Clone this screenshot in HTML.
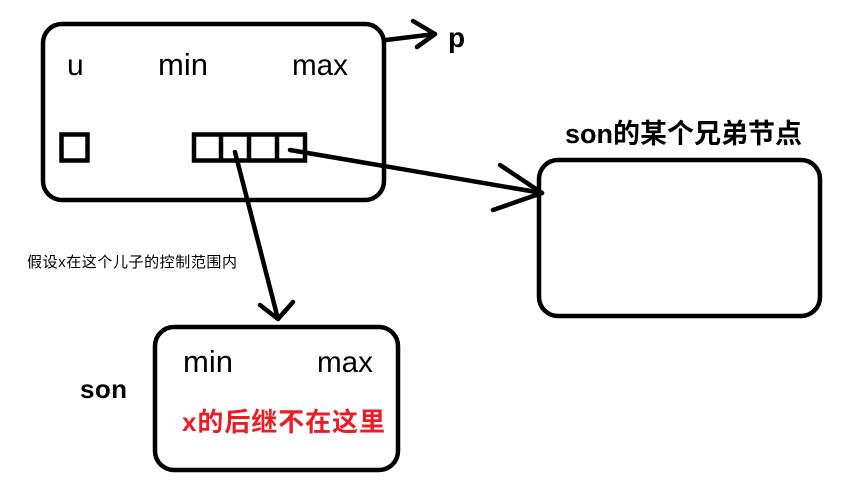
<!DOCTYPE html>
<html><head><meta charset="utf-8">
<style>
html,body{margin:0;padding:0;background:#fff;}
svg{display:block;}
text{font-family:"Liberation Sans","Noto Sans CJK SC",sans-serif;}
</style></head>
<body>
<svg width="859" height="501" viewBox="0 0 859 501" xmlns="http://www.w3.org/2000/svg">
<rect width="859" height="501" fill="#fff"/>
<g fill="none" stroke="#000" stroke-width="4.5" stroke-linecap="round" stroke-linejoin="round">
  <!-- top box -->
  <rect x="43" y="24" width="341" height="176" rx="19" ry="19"/>
  <!-- small square -->
  <rect x="61.5" y="134.5" width="26" height="26" stroke-linecap="butt" stroke-linejoin="miter"/>
  <!-- cells -->
  <rect x="194" y="134.5" width="111" height="26" stroke-linecap="butt" stroke-linejoin="miter"/>
  <line x1="221" y1="134" x2="221" y2="161" stroke-linecap="butt"/>
  <line x1="249" y1="134" x2="249" y2="161" stroke-linecap="butt"/>
  <line x1="277" y1="134" x2="277" y2="161" stroke-linecap="butt"/>
  <!-- sibling box -->
  <rect x="539" y="160" width="281" height="156" rx="19" ry="19"/>
  <!-- son box -->
  <rect x="155" y="327" width="243" height="143" rx="19" ry="19"/>
  <!-- arrow to p -->
  <polyline points="386,40 435,34"/>
  <polyline points="413,21 435,34 417,47"/>
  <!-- arrow to son -->
  <line x1="235" y1="152" x2="278" y2="319"/>
  <polyline points="260,305 278,319 293,302"/>
  <!-- arrow to sibling -->
  <line x1="290" y1="150" x2="542" y2="193"/>
  <polyline points="500,165 542,193 493,210"/>
</g>
<!-- top box labels -->
<text x="67" y="75" font-size="30" fill="#000">u</text>
<text x="158" y="75" font-size="31" fill="#000">min</text>
<text x="292" y="75" font-size="30" fill="#000" textLength="56" lengthAdjust="spacingAndGlyphs">max</text>
<!-- p -->
<text x="448" y="47" font-size="28" font-weight="bold" fill="#000">p</text>
<!-- sibling title -->
<text x="565" y="143" font-size="27" font-weight="bold" fill="#000" textLength="237">son的某个兄弟节点</text>
<!-- annotation -->
<text x="27" y="267" font-size="15" fill="#000" textLength="210">假设x在这个儿子的控制范围内</text>
<!-- son label -->
<text x="80" y="398" font-size="26" font-weight="bold" fill="#000" textLength="47">son</text>
<!-- son box labels -->
<text x="183" y="372" font-size="31" fill="#000">min</text>
<text x="317" y="372" font-size="30" fill="#000" textLength="56" lengthAdjust="spacingAndGlyphs">max</text>
<text x="182" y="431" font-size="26" font-weight="bold" fill="#ed1c24" textLength="203">x的后继不在这里</text>
</svg>
</body></html>
